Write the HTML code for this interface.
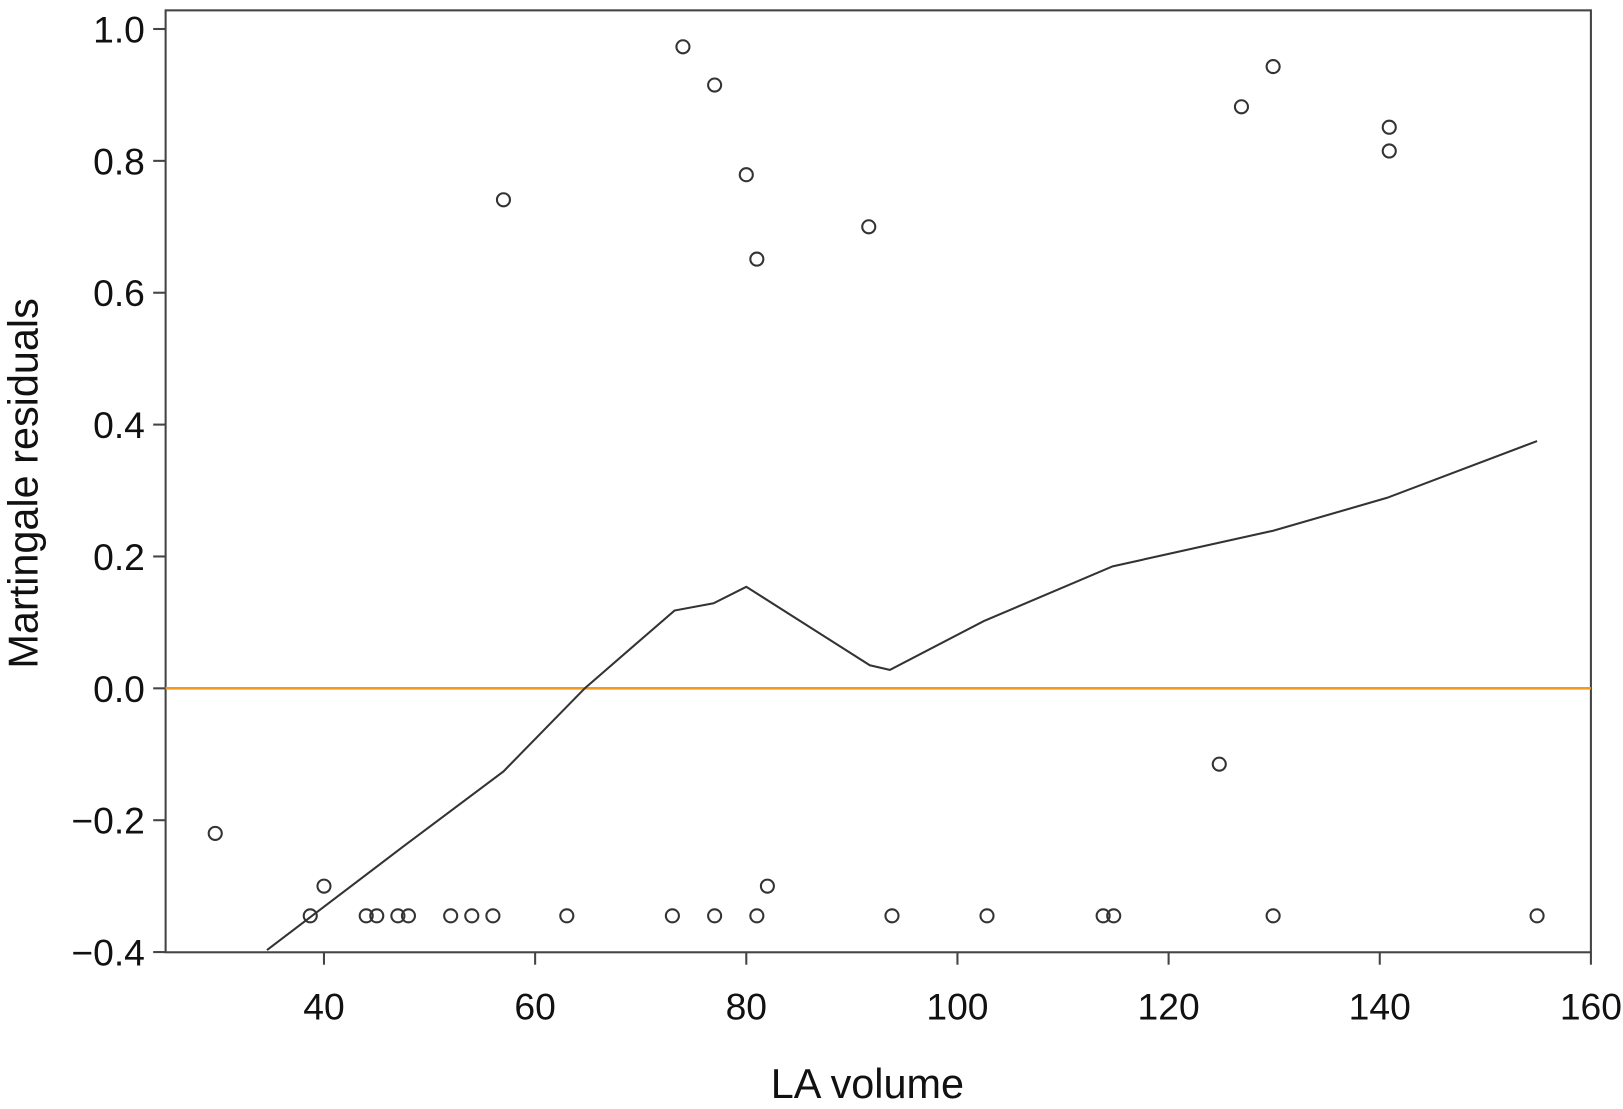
<!DOCTYPE html>
<html><head><meta charset="utf-8"><style>
html,body{margin:0;padding:0;background:#fff;}
svg{display:block;font-family:"Liberation Sans",Arial,sans-serif;}
</style></head><body>
<svg id="chart" width="1623" height="1109" viewBox="0 0 1568 1071.4" xmlns="http://www.w3.org/2000/svg">
<g id="g"></g>
</svg>
<script>
const xTicks=[40,60,80,100,120,140,160];
const yTicks=[1.0,0.8,0.6,0.4,0.2,0.0,-0.2,-0.4];
const yTickLabels=["1.0","0.8","0.6","0.4","0.2","0.0","\u22120.2","\u22120.4"];
const pointX=[29.7,38.7,40,44,45,47,48,52,54,56,57,63,73,74,77,77,80,81,81,82,91.6,93.8,102.8,113.8,114.8,124.8,126.9,129.9,129.9,140.9,140.9,154.9];
const pointY=[-0.22,-0.345,-0.30,-0.345,-0.345,-0.345,-0.345,-0.345,-0.345,-0.345,0.741,-0.345,-0.345,0.973,0.915,-0.345,0.779,0.651,-0.345,-0.30,0.70,-0.345,-0.345,-0.345,-0.345,-0.115,0.882,0.943,-0.345,0.851,0.815,-0.345];
const smoothX=[34.6,47.5,57,64.7,73.2,76.9,80,91.7,93.6,102.5,114.7,129.9,140.7,154.9];
const smoothY=[-0.397,-0.24,-0.126,0,0.118,0.129,0.154,0.035,0.028,0.102,0.185,0.239,0.289,0.375];
const L=160,R=1537,T=10,B=920;
const xs=v=>313+(v-40)*10.2;
const ys=v=>665-v*637;
const NS="http://www.w3.org/2000/svg";
const g=document.getElementById('g');
function mk(t,a){const e=document.createElementNS(NS,t);for(const k in a)e.setAttribute(k,a[k]);g.appendChild(e);return e;}
let e;
e=mk('rect',{x:L,y:T,width:R-L,height:B-T,fill:'none',stroke:'#444','stroke-width':2});


xTicks.forEach(v=>{
 e=mk('line',{x1:xs(v),x2:xs(v),y1:B,y2:B+12,stroke:'#444','stroke-width':2});
 
 
 e=mk('text',{x:xs(v),y:985,'font-size':36,'text-anchor':'middle',fill:'#111'});e.textContent=v;
 
 
});
yTicks.forEach((v,i)=>{
 e=mk('line',{x1:L-12,x2:L,y1:ys(v),y2:ys(v),stroke:'#444','stroke-width':2});
 
 
 e=mk('text',{x:140,y:ys(v)+13,'font-size':36,'text-anchor':'end',fill:'#111'});e.textContent=yTickLabels[i];
 
 
});
e=mk('line',{x1:L,x2:R,y1:ys(0),y2:ys(0),stroke:'#f39a1e','stroke-width':2.5});


e=mk('polyline',{points:smoothX.map((v,i)=>xs(v)+','+ys(smoothY[i])).join(' '),fill:'none',stroke:'#333','stroke-width':2});


pointX.forEach((v,i)=>{
 e=mk('circle',{cx:xs(v),cy:ys(pointY[i]),r:6.3,fill:'none',stroke:'#333','stroke-width':2});
 
 
});
e=mk('text',{x:838,y:1061,'font-size':40,'text-anchor':'middle',fill:'#111'});e.textContent='LA volume';


e=mk('text',{x:0,y:0,'font-size':40,'text-anchor':'middle',fill:'#111',transform:'translate(36,467) rotate(-90)'});e.textContent='Martingale residuals';


</script>
</body></html>
